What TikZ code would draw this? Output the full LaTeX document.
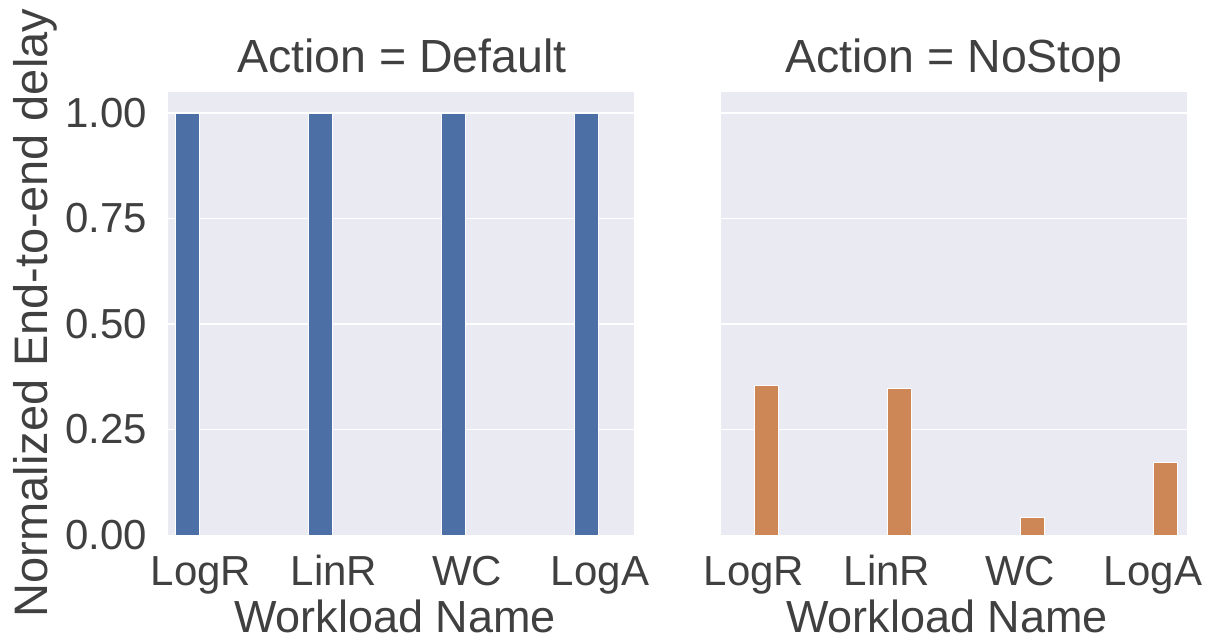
\documentclass[tikz,border=0pt]{standalone}
\usepackage{fontspec}
\setmainfont{Liberation Sans}
\usepackage{tikz}
\usepackage{color}
\definecolor{panelbg}{HTML}{EAEAF2}
\definecolor{barblue}{HTML}{4C6FA6}
\definecolor{barorange}{HTML}{CD8656}
\definecolor{inkgray}{HTML}{404040}
\tikzset{
    panel/.style={
           fill=panelbg,
           draw=none,
           },
    gridline/.style={
           draw=white,
           line width=1.8pt,
           },
    bar/.style={
           draw=white,
           line width=0.8pt,
           },
    ticktext/.style={
           text=inkgray,
           inner sep=0pt,
           font=\fontsize{42}{50}\selectfont,
           },
    axistext/.style={
           text=inkgray,
           inner sep=0pt,
           font=\fontsize{45}{54}\selectfont,
           },
}

\begin{document}
\begin{tikzpicture}[x=1pt, y=-1pt]
    \useasboundingbox (0,0) rectangle (1208,640);

    % Panel: Action = Default
    \fill[panel] (168,92) rectangle (634,535);
    \draw[gridline] (168,113) -- (634,113)  (168,218.5) -- (634,218.5)
                    (168,324) -- (634,324)  (168,429.5) -- (634,429.5);
    \draw[bar, fill=barblue] (175,113) rectangle (199,535);
    \draw[bar, fill=barblue] (308,113) rectangle (332,535);
    \draw[bar, fill=barblue] (441,113) rectangle (465,535);
    \draw[bar, fill=barblue] (574,113) rectangle (598,535);

    % Panel: Action = NoStop
    \fill[panel] (721,92) rectangle (1187,535);
    \draw[gridline] (721,113) -- (1187,113)  (721,218.5) -- (1187,218.5)
                    (721,324) -- (1187,324)  (721,429.5) -- (1187,429.5);
    \draw[bar, fill=barorange] (754,385) rectangle (778,535);
    \draw[bar, fill=barorange] (887,388) rectangle (911,535);
    \draw[bar, fill=barorange] (1020,517) rectangle (1044,535);
    \draw[bar, fill=barorange] (1153,462) rectangle (1177,535);

    % titles of the two panels
    \node[axistext, font=\fontsize{46.5}{56}\selectfont, anchor=base] (titledef) at (402,72) {Action = Default};
    \node[axistext, font=\fontsize{46.5}{56}\selectfont, anchor=base] (titlenostop) at (954,72) {Action = NoStop};

    % y axis (shared)
    \node[ticktext, anchor=east] (y100) at (147,113) {1.00};
    \node[ticktext, anchor=east] (y075) at (147,218.5) {0.75};
    \node[ticktext, anchor=east] (y050) at (147,324) {0.50};
    \node[ticktext, anchor=east] (y025) at (147,429.5) {0.25};
    \node[ticktext, anchor=east] (y000) at (147,535) {0.00};
    \node[axistext, font=\fontsize{47}{56}\selectfont, rotate=90, anchor=base] (ylab) at (47,313) {Normalized End-to-end delay};

    % x axis, left panel
    \node[ticktext, anchor=base] (logrdef) at (201,585) {LogR};
    \node[ticktext, anchor=base] (linrdef) at (334,585) {LinR};
    \node[ticktext, anchor=base] (wcdef) at (467,585) {WC};
    \node[ticktext, anchor=base] (logadef) at (600,585) {LogA};
    \node[axistext, anchor=base] (xlabdef) at (395,632) {Workload Name};

    % x axis, right panel
    \node[ticktext, anchor=base] (logrnostop) at (754,585) {LogR};
    \node[ticktext, anchor=base] (linrnostop) at (887,585) {LinR};
    \node[ticktext, anchor=base] (wcnostop) at (1020,585) {WC};
    \node[ticktext, anchor=base] (loganostop) at (1153,585) {LogA};
    \node[axistext, anchor=base] (xlabnostop) at (947,632) {Workload Name};
\end{tikzpicture}
\end{document}
